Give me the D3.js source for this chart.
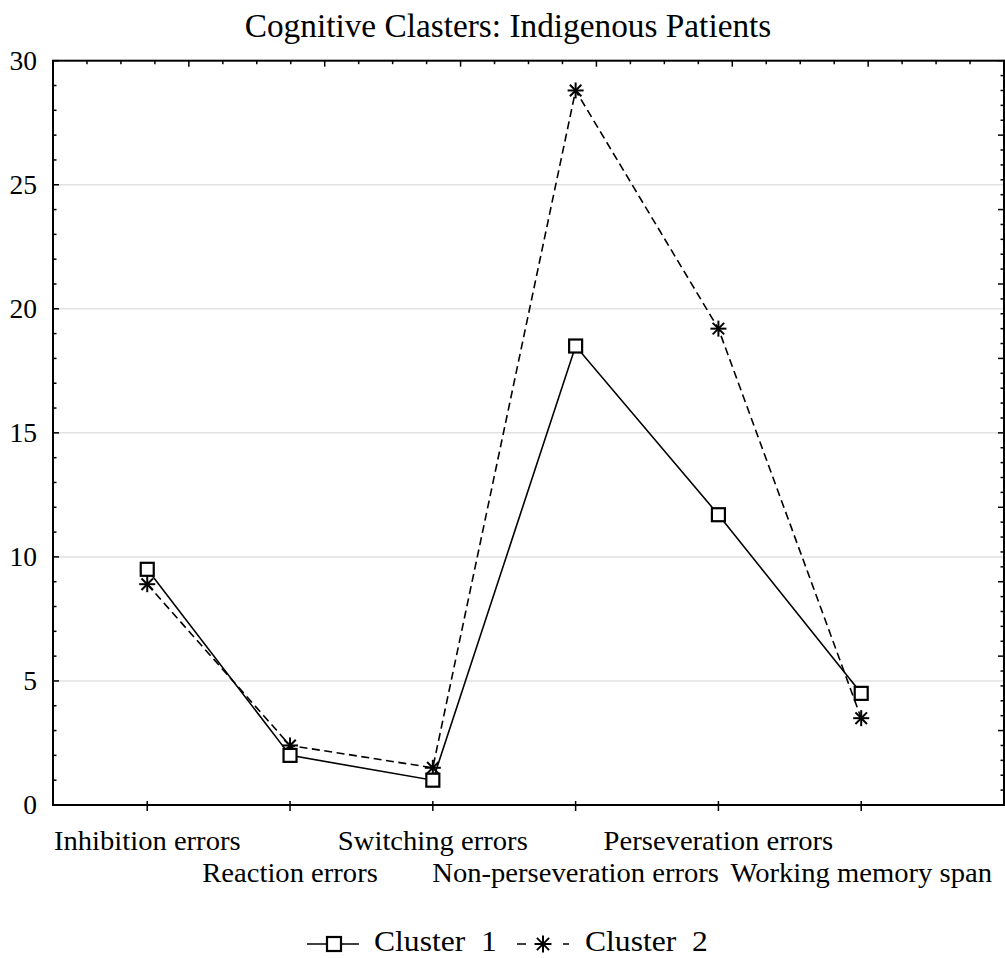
<!DOCTYPE html>
<html>
<head>
<meta charset="utf-8">
<script src="https://cdn.jsdelivr.net/npm/d3@7"></script>
<style>
  html, body { margin: 0; padding: 0; background: #fff; }
  svg { display: block; }
  text { font-family: "Liberation Serif", "Times New Roman", serif; fill: #000; }
</style>
</head>
<body>
<svg id="chart" width="1005" height="958"></svg>
<script>
const title = "Cognitive Clasters: Indigenous Patients";
const categories = ["Inhibition errors", "Reaction errors", "Switching errors",
  "Non-perseveration errors", "Perseveration errors", "Working memory span"];
const cluster1 = [9.5, 2.0, 1.0, 18.5, 11.7, 4.5];
const cluster2 = [8.9, 2.4, 1.5, 28.8, 19.2, 3.5];
const seriesNames = ["Cluster  1", "Cluster  2"];
const yTicks = [0, 5, 10, 15, 20, 25, 30];

const W = 1005, H = 958;
const L = 53, R = 1004, T = 60.7, B = 805;
const svg = d3.select("#chart");

const x = d3.scaleLinear().domain([-0.66, 6]).range([L, R]);
const y = d3.scaleLinear().domain([0, 30]).range([B, T]);
const xTop = d3.scaleLinear().domain([0, 28]).range([L, R]);
const yRight = d3.scaleLinear().domain([0, 50]).range([B, T]);

// title
svg.append("text").attr("transform", "translate(508,37) scale(1.01,1)").attr("text-anchor", "middle")
  .attr("font-size", 33).text(title);

// gridlines
svg.append("g").selectAll("line").data(yTicks.filter(d => d > 0 && d < 30)).join("line")
  .attr("x1", L).attr("x2", R).attr("y1", d => y(d)).attr("y2", d => y(d))
  .attr("stroke", "#e2e2e2").attr("stroke-width", 1.5);

// left axis ticks (inside)
svg.append("g").selectAll("line").data(d3.range(0, 31)).join("line")
  .attr("x1", L).attr("x2", d => L + (d % 5 === 0 ? 6 : 3.5))
  .attr("y1", d => y(d)).attr("y2", d => y(d))
  .attr("stroke", "#000").attr("stroke-width", 1.5);
svg.append("g").selectAll("text").data(yTicks).join("text")
  .attr("transform", d => `translate(37,${y(d)}) scale(1.02,1)`).attr("dy", "0.34em")
  .attr("text-anchor", "end").attr("font-size", 27).text(d => d);

// right axis ticks (inside)
svg.append("g").selectAll("line").data(d3.range(0, 51)).join("line")
  .attr("x1", R).attr("x2", d => R - (d % 5 === 0 ? 6 : 3.5))
  .attr("y1", d => yRight(d)).attr("y2", d => yRight(d))
  .attr("stroke", "#000").attr("stroke-width", 1.5);

// top axis ticks (inside)
svg.append("g").selectAll("line").data(d3.range(1, 28)).join("line")
  .attr("x1", d => xTop(d)).attr("x2", d => xTop(d))
  .attr("y1", T).attr("y2", d => T + (d % 4 === 0 ? 6 : 3.5))
  .attr("stroke", "#000").attr("stroke-width", 1.5);

// bottom axis ticks (crossing)
svg.append("g").selectAll("line").data(categories).join("line")
  .attr("x1", (d, i) => x(i)).attr("x2", (d, i) => x(i))
  .attr("y1", B - 4).attr("y2", B + 6)
  .attr("stroke", "#000").attr("stroke-width", 1.5);

// category labels (two staggered rows)
svg.append("g").selectAll("text").data(categories).join("text")
  .attr("transform", (d, i) => `translate(${x(i)},${i % 2 === 0 ? 850 : 882}) scale(1.06,1)`)
  .attr("text-anchor", "middle").attr("font-size", 27).text(d => d);

// frame
svg.append("rect").attr("x", L).attr("y", T).attr("width", R - L).attr("height", B - T)
  .attr("fill", "none").attr("stroke", "#000").attr("stroke-width", 2);

// series lines
const line = d3.line().x((d, i) => x(i)).y(d => y(d));
svg.append("path").datum(cluster2).attr("d", line).attr("fill", "none")
  .attr("stroke", "#000").attr("stroke-width", 1.6).attr("stroke-dasharray", "8,4.5");
svg.append("path").datum(cluster1).attr("d", line).attr("fill", "none")
  .attr("stroke", "#000").attr("stroke-width", 1.6);

function star(g, cx, cy, r) {
  const s = g.append("g").attr("transform", `translate(${cx},${cy})`);
  const k = r * 0.72;
  [[0, -r, 0, r], [-r, 0, r, 0], [-k, -k, k, k], [-k, k, k, -k]]
    .forEach(a => s.append("line").attr("x1", a[0]).attr("y1", a[1]).attr("x2", a[2]).attr("y2", a[3])
      .attr("stroke", "#000").attr("stroke-width", 2));
}
function square(g, cx, cy, s) {
  g.append("rect").attr("x", cx - s / 2).attr("y", cy - s / 2).attr("width", s).attr("height", s)
    .attr("fill", "#fff").attr("stroke", "#000").attr("stroke-width", 2.2);
}

const mk = svg.append("g");
cluster2.forEach((v, i) => star(mk, x(i), y(v), 8));
cluster1.forEach((v, i) => square(mk, x(i), y(v), 13));

// legend
const lg = svg.append("g");
const ly = 944;
lg.append("line").attr("x1", 307).attr("x2", 359).attr("y1", ly).attr("y2", ly)
  .attr("stroke", "#000").attr("stroke-width", 1.6);
square(lg, 334, ly, 14);
lg.append("text").attr("transform", "translate(374,951) scale(1.09,1)").attr("font-size", 29)
  .style("white-space", "pre").text(seriesNames[0]);
lg.append("line").attr("x1", 517).attr("x2", 569).attr("y1", ly).attr("y2", ly)
  .attr("stroke", "#000").attr("stroke-width", 1.6).attr("stroke-dasharray", "9,37,6");
star(lg, 543, ly, 8.5);
lg.append("text").attr("transform", "translate(585,951) scale(1.09,1)").attr("font-size", 29)
  .style("white-space", "pre").text(seriesNames[1]);
</script>
</body>
</html>
